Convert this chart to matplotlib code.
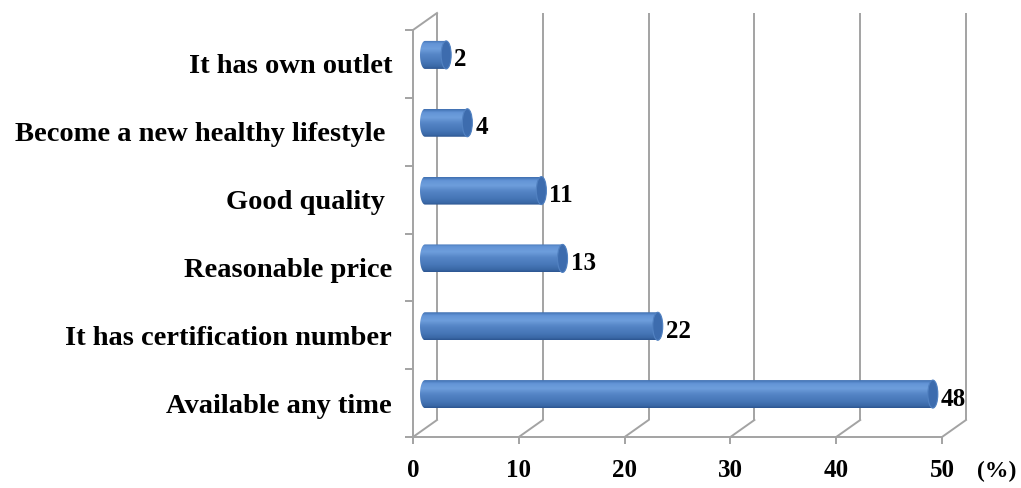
import matplotlib.pyplot as plt
from matplotlib.colors import LinearSegmentedColormap
from matplotlib.patches import PathPatch, Ellipse
from matplotlib.path import Path
import numpy as np

# data (bottom to top)
categories = [
    "Available any time",
    "It has certification number",
    "Reasonable price",
    "Good quality ",
    "Become a new healthy lifestyle ",
    "It has own outlet",
]
values = [48, 22, 13, 11, 4, 2]
xticks = [0, 10, 20, 30, 40, 50]

plt.rcParams["font.family"] = ["Liberation Serif", "DejaVu Serif"]
plt.rcParams["font.weight"] = "bold"

W, H = 1021, 488
fig = plt.figure(figsize=(W / 100, H / 100), dpi=100)
fig.patch.set_facecolor("white")

# front plane of the 3d box, in pixels
left_px, right_px, top_px, floor_px = 413.0, 942.0, 30.0, 437.0
ax = fig.add_axes((left_px / W, (H - floor_px) / H,
                   (right_px - left_px) / W, (floor_px - top_px) / H))
ax.set_facecolor("none")

ymin, ymax = -0.5, len(categories) - 0.5
px_x = (right_px - left_px) / (xticks[-1] - xticks[0])
px_y = (floor_px - top_px) / (ymax - ymin)

grid = "#a3a3a3"
lw = 1.4

# depth offsets (back wall and bar plane) converted to data units
dx, dy = 24 / px_x, 17 / px_y
bx, by = 12 / px_x, 9 / px_y

# back wall gridlines, floor diagonals, left wall
for t in xticks:
    ax.plot([t + dx, t + dx], [ymin + dy, ymax + dy], color=grid, lw=lw,
            clip_on=False, zorder=1, solid_capstyle="butt")
    ax.plot([t, t + dx], [ymin, ymin + dy], color=grid, lw=lw,
            clip_on=False, zorder=1)
ax.plot([0, dx], [ymax, ymax + dy], color=grid, lw=lw, clip_on=False, zorder=1)

# cylinder shading
cyl = LinearSegmentedColormap.from_list("cyl", [
    (0.0, "#3f6fb0"), (0.12, "#6394d6"), (0.3, "#6e9edc"),
    (0.5, "#5585c6"), (0.75, "#4777b8"), (0.92, "#3a68a6"), (1.0, "#2c5590")])
grad = np.linspace(0, 1, 200).reshape(-1, 1)

rx = 5 / px_x
hh = 14 / px_y
th_l = np.linspace(np.pi / 2, 3 * np.pi / 2, 40)
th_r = np.linspace(-np.pi / 2, np.pi / 2, 40)

for i, v in enumerate(values):
    c = i + by
    x0, x1 = bx, bx + v
    pts = np.vstack([
        np.column_stack([x0 + rx * np.cos(th_l), c + hh * np.sin(th_l)]),
        np.column_stack([x1 + rx * np.cos(th_r), c + hh * np.sin(th_r)]),
    ])
    pts = np.vstack([pts, pts[:1]])
    shape = PathPatch(Path(pts, closed=True), transform=ax.transData)
    im = ax.imshow(grad, cmap=cyl, extent=(x0 - rx, x1 + rx, c - hh, c + hh),
                   aspect="auto", origin="upper", zorder=3,
                   interpolation="bilinear")
    im.set_clip_path(shape)
    ax.add_patch(Ellipse((x1, c), 2 * rx, 2 * hh, facecolor="#3d6cae",
                         edgecolor="#5282c2", lw=0.8, zorder=4))
    ax.annotate(str(v), xy=(x1 + rx, c), xytext=(3, -5),
                textcoords="offset pixels", ha="left", va="center",
                fontsize=18, color="black", zorder=5)

ax.set_xlim(xticks[0], xticks[-1])
ax.set_ylim(ymin, ymax)

ax.set_xticks(xticks)
ax.set_xticklabels([str(t) for t in xticks])
ax.tick_params(axis="x", length=5, width=lw, color=grid, pad=11, labelsize=18)

ax.set_yticks(range(len(categories)))
ax.set_yticklabels(categories)
ax.set_yticks(np.arange(ymin, ymax + 0.01, 1), minor=True)
ax.tick_params(axis="y", which="major", length=0, pad=15, labelsize=20.5)
ax.tick_params(axis="y", which="minor", length=6, width=lw, color=grid)

for s in ("top", "right"):
    ax.spines[s].set_visible(False)
for s in ("left", "bottom"):
    ax.spines[s].set_color(grid)
    ax.spines[s].set_linewidth(lw)

ax.annotate("(%)", xy=(xticks[-1], ymin), xytext=(55, -34),
            textcoords="offset pixels", ha="center", va="center",
            fontsize=17, annotation_clip=False)

fig.savefig("out.png", dpi=100)
